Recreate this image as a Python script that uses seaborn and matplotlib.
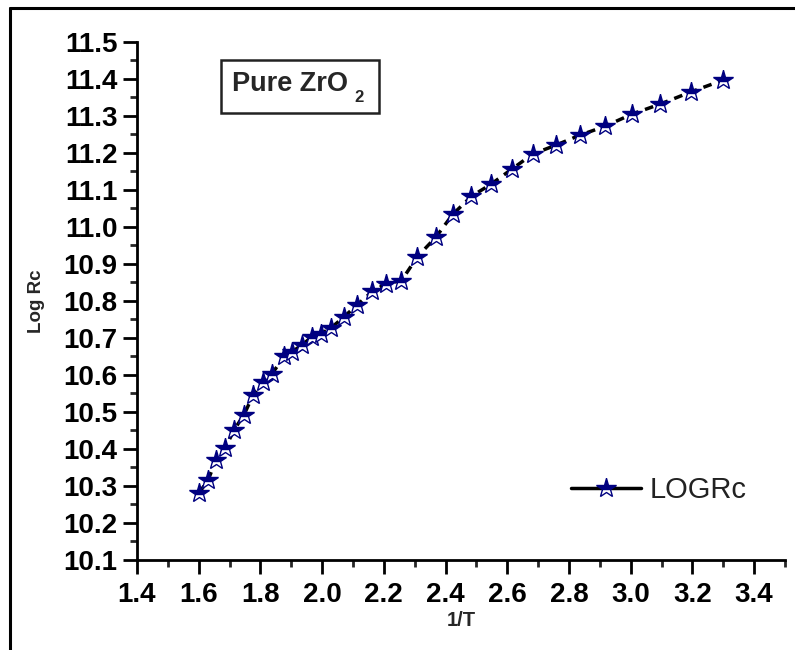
import numpy as np
import pandas as pd
import matplotlib
matplotlib.use("Agg")
import matplotlib.pyplot as plt
import seaborn as sns
from matplotlib.lines import Line2D
from matplotlib.patches import Rectangle
from matplotlib.ticker import MultipleLocator

inv_T = [1.601, 1.631, 1.656, 1.686, 1.715, 1.747, 1.777, 1.809, 1.838, 1.877,
         1.903, 1.936, 1.968, 1.997, 2.030, 2.072, 2.114, 2.163, 2.208, 2.257,
         2.309, 2.368, 2.423, 2.484, 2.546, 2.614, 2.682, 2.757, 2.835, 2.916,
         3.004, 3.095, 3.195, 3.299]
log_rc = [10.281, 10.317, 10.371, 10.403, 10.452, 10.493, 10.547, 10.582, 10.604, 10.650,
          10.663, 10.682, 10.704, 10.712, 10.728, 10.758, 10.790, 10.826, 10.847, 10.855,
          10.920, 10.972, 11.034, 11.083, 11.115, 11.156, 11.197, 11.221, 11.248, 11.272,
          11.305, 11.332, 11.365, 11.397]
series_name = "LOGRc"
x_ticks = [1.4, 1.6, 1.8, 2.0, 2.2, 2.4, 2.6, 2.8, 3.0, 3.2, 3.4]
y_ticks = [10.1, 10.2, 10.3, 10.4, 10.5, 10.6, 10.7, 10.8, 10.9, 11.0, 11.1, 11.2, 11.3, 11.4, 11.5]

df = pd.DataFrame({"1/T": inv_T, "Log Rc": log_rc})

sns.set_style("ticks")
plt.rcParams['font.family'] = ['Liberation Sans', 'DejaVu Sans']

W, H = 795, 650
fig = plt.figure(figsize=(W/100, H/100), dpi=100)
ax = fig.add_axes([137/W, 1-560/H, (785-137)/W, (560-42)/H])

NAVY = "#000080"
sns.lineplot(data=df, x="1/T", y="Log Rc", ax=ax, color="black",
             linestyle=(0, (2.5, 2)), linewidth=2.5,
             marker="*", markersize=15, markerfacecolor=NAVY,
             markeredgecolor=NAVY, markeredgewidth=1.0,
             fillstyle="top", markerfacecoloralt="white",
             sort=False, legend=False)

ax.set_xlim(1.4, 3.5)
ax.set_ylim(10.1, 11.5)
ax.set_xticks(x_ticks)
ax.set_yticks(y_ticks)
ax.set_xticklabels([f"{v:.1f}" for v in x_ticks])
ax.set_yticklabels([f"{v:.1f}" for v in y_ticks])
ax.xaxis.set_minor_locator(MultipleLocator(0.1))
ax.yaxis.set_minor_locator(MultipleLocator(0.05))
ax.tick_params(axis='both', which='major', direction='out', length=10, width=2,
               labelsize=20, colors='black')
ax.tick_params(axis='x', which='major', pad=6)
ax.tick_params(axis='y', which='major', pad=4)
ax.tick_params(axis='both', which='minor', direction='out', length=5, width=2)
for lbl in ax.get_xticklabels() + ax.get_yticklabels():
    lbl.set_fontweight('bold')
for s in ["top", "right"]:
    ax.spines[s].set_visible(False)
for s in ["left", "bottom"]:
    ax.spines[s].set_linewidth(2)
    ax.spines[s].set_color('black')
ax.set_xlabel("1/T", fontsize=14.5, fontweight='bold', labelpad=2)
ax.set_ylabel("Log Rc", fontsize=13.5, fontweight='bold', labelpad=13)

# title box
fig.add_artist(Rectangle((221/W, 1-113/H), (379-221)/W, (113-60)/H,
                         transform=fig.transFigure, facecolor='white',
                         edgecolor='#222222', linewidth=1.8))
fig.text(232/W, 1-84/H, "Pure ZrO", fontsize=19.5, fontweight='bold',
         ha='left', va='center')
fig.text(354/W, 1-98/H, "2", fontsize=12, fontweight='bold',
         ha='left', va='center')

handle = Line2D([], [], color='black', linewidth=2.5, marker='*', markersize=15,
                markerfacecolor=NAVY, markeredgecolor=NAVY,
                fillstyle="top", markerfacecoloralt="white")
leg = ax.legend([handle], [series_name], loc='center left',
                bbox_to_anchor=((571-137)/648, (560-490)/518), frameon=False,
                fontsize=21, handlelength=2.4, handletextpad=0.3, borderpad=0,
                borderaxespad=0)
for t in leg.get_texts():
    t.set_color('#222222')

fig.add_artist(Line2D([10/W, 10/W], [0, 1-8/H], color='black', linewidth=2.2,
                      transform=fig.transFigure))
fig.add_artist(Line2D([10/W, 1], [1-8/H, 1-8/H], color='black', linewidth=2.2,
                      transform=fig.transFigure))

fig.savefig("out.png", dpi=100)
